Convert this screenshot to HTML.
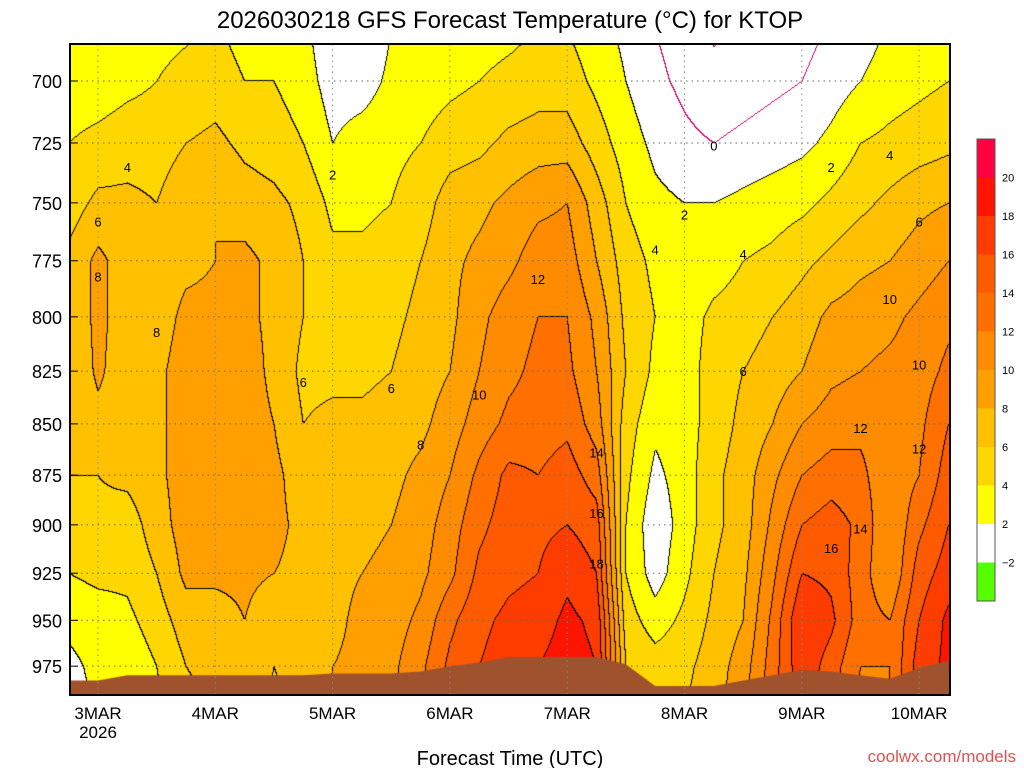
<!DOCTYPE html>
<html><head><meta charset="utf-8">
<style>
body{margin:0;background:#fff;width:1024px;height:768px;overflow:hidden;font-family:"Liberation Sans",sans-serif;}
#wrap{position:relative;width:1024px;height:768px;}
canvas{position:absolute;left:0;top:0;}
svg{position:absolute;left:0;top:0;}
</style></head>
<body><div id="wrap">
<canvas id="cv" width="1024" height="768"></canvas>
<svg id="sv" width="1024" height="768"></svg>
</div>
<script>
// ---- data ----
const levels = [700,725,750,775,800,825,850,875,900,925,950,975];
const dayLabels = ["3MAR","4MAR","5MAR","6MAR","7MAR","8MAR","9MAR","10MAR"];
// temperature columns, 6-hourly from 2026-03-02 18Z; each row follows levels[]
const T = [
[3,4,5,6.5,6.5,6.5,6.5,6,5,4,2.5,1.5],
[3,4.5,6.5,8.5,8.5,8.3,7.5,6,5.5,4.5,3,2.5],
[3.5,5,6.5,7,7,7,7,6.5,5,4.5,3.5,2.5],
[4,5,6,7,7,7.5,7.5,7.5,7,6,5,4],
[4.5,6,7.5,7.5,8.5,9,9,9,9,8.5,7,6],
[5,6.5,8,8,8.5,9,9.5,9.5,9,8.5,7,6.5],
[4,5.5,7,8.5,8.5,9,9,9,9,8.5,8,7],
[4,5,6.5,7.5,7.5,7.5,8,8.5,8.5,8,6.5,6],
[3,4,5.5,6,6,5.5,6,7,7.5,7.5,7,6.5],
[1,2,3.5,4.5,5,5.5,6.5,7,7.5,7.5,7.5,8],
[1,3,3.5,4.5,5,5.5,6.5,7,7.5,8,8.5,8.5],
[2.5,3.5,4,5,5.5,6,7,7.5,8,8.5,9,9.5],
[3,4,5,6,6.5,7,7.5,8.5,9,9.5,10.5,11.5],
[3.5,5,7,7.5,7.5,8,9,10,11,11.5,13.5,14.5],
[4,5.5,7.5,8.5,9.5,10,11,12.5,13.5,14.5,15.5,16],
[4.5,6.5,8.5,9.5,11,11.5,12.5,14.5,15,15.5,16.5,17],
[5,7,9.5,11,12,12.5,13,14,15.5,16,17,18],
[5,7,10,11,12,12.5,13.5,15,16,17.5,18.5,19],
[3.5,5,7,8,9.5,10,11,13,15,16,17.5,18],
[2,3,4,5,5.5,6,5,4.5,4,4,5,6],
[0.5,1.5,2.5,3.5,4,3.5,2.5,1.5,0.5,1,3,5],
[-0.5,0.5,2,2.5,3,3,3,3,3,3.5,4.5,5.5],
[-1.5,0,2,3,4.5,5,5,5.5,5.5,6,6.5,7],
[-1,0.5,2.5,4,5,6,6.5,7,7,7.5,8,9],
[-0.5,1,3,4.5,6,7,8,9.5,10.5,11.5,12.5,13],
[0,1.5,3.5,5.5,7,8,10,12,14,16,18,17.5],
[1,2.5,4.5,6.5,8.5,9.5,11,13,15,15.5,16.5,15],
[2,4,5.5,7.5,9,10,11.5,12.5,13.5,13,13,12],
[3,4.5,6.5,8,9.5,10.5,11,10.5,10,10,12,12],
[3.5,5,7.5,9,10.5,11,11.5,12,13.5,15,16,17],
[4,5.5,8,10,11.5,12.5,14,15,16,17,18.5,18.5]
];
const surfaceP = [983,983,980,980,980,980,980,980,980,979,979,979,978,975,973,970,970,970,970,974,986,986,986,983,980,977,978,980,982,976,972];
const binColors = ["#55ff00","#ffffff","#ffffff","#ffff00","#ffd700","#ffc000","#ffa000","#ff8c00","#ff7000","#ff5a00","#ff3c00","#ff1400","#ff0040"];
const binEdges = [-2,0,2,4,6,8,10,12,14,16,18,20];
const legendLabels = ["20","18","16","14","12","10","8","6","4","2","\u22122"];
// contour labels: [value, time index, pressure]
const labelVals = ["4","6","8","8","6","2","6","8","10","12","14","16","18","4","2","4","6","10","12","14","16","10","12","0","2","4","6"];
const labelIdx  = [2,1,1,3,8,9,11,12,14,16,18,18,18,20,21,23,23,28,27,27,26,29,29,22,26,28,29];
const labelP    = [735,758,782,807,830,738,833,860,836,783,864,894,920,770,755,772,825,792,852,902,912,822,862,726,735,730,758];

// ---- axes ----
const X0=70,X1=950,Y0=44,Y1=695;
const dayW=117.3, day0X=98;
const stepW=dayW/4;
function xOfIdx(i){return day0X-stepW+i*stepW;}
function yOfP(p){return 81+1766*Math.log(p/700);}
function pOfY(y){return 700*Math.exp((y-81)/1766);}

function tempAt(x,y){
  let fi=(x-xOfIdx(0))/stepW; fi=Math.max(0,Math.min(T.length-1.0001,fi));
  const i=Math.floor(fi), fx=fi-i;
  const p=pOfY(y);
  const lp=Math.log(p);
  let fj;
  if(p<levels[0]){fj=(lp-Math.log(levels[0]))/(Math.log(levels[1])-Math.log(levels[0]));}
  else if(p>=levels[levels.length-1]){fj=levels.length-1+(lp-Math.log(975))/(Math.log(975)-Math.log(950));}
  else{
    let j=0;while(j<levels.length-2&&p>levels[j+1])j++;
    fj=j+(lp-Math.log(levels[j]))/(Math.log(levels[j+1])-Math.log(levels[j]));
  }
  function col(c){
    const n=levels.length;
    if(fj<0) return c[0]+fj*(c[1]-c[0])*0.6;
    if(fj>=n-1) return c[n-1]+(fj-(n-1))*(c[n-1]-c[n-2])*0.5;
    const j=Math.floor(fj),f=fj-j;return c[j]*(1-f)+c[j+1]*f;
  }
  return col(T[i])*(1-fx)+col(T[i+1])*fx;
}
function binOf(t){let b=0;while(b<binEdges.length&&t>=binEdges[b])b++;return b;}
function hexRgb(h){return [parseInt(h.slice(1,3),16),parseInt(h.slice(3,5),16),parseInt(h.slice(5,7),16)];}
const rgb=binColors.map(hexRgb);

const cv=document.getElementById('cv'),ctx=cv.getContext('2d');
const W=X1-X0,H=Y1-Y0;
const img=ctx.createImageData(W,H);
const bins=new Int16Array(W*H);
for(let yy=0;yy<H;yy++)for(let xx=0;xx<W;xx++){bins[yy*W+xx]=binOf(tempAt(X0+xx,Y0+yy));}
for(let yy=0;yy<H;yy++)for(let xx=0;xx<W;xx++){
  const k=yy*W+xx,b=bins[k];let c=rgb[b];
  const r=xx<W-1?bins[k+1]:b, d=yy<H-1?bins[k+W]:b;
  if(r!==b||d!==b){const lo=Math.min(b,r,d);c=(lo<=1)?[200,0,110]:[0,0,0];}
  img.data[k*4]=c[0];img.data[k*4+1]=c[1];img.data[k*4+2]=c[2];img.data[k*4+3]=255;
}
ctx.putImageData(img,X0,Y0);

ctx.fillStyle="#a0522d";ctx.beginPath();ctx.moveTo(X0,Y1);
for(let i=0;i<surfaceP.length;i++){ctx.lineTo(Math.max(X0,Math.min(X1,xOfIdx(i))),yOfP(surfaceP[i]));}
ctx.lineTo(X1,Y1);ctx.closePath();ctx.fill();

// ---- SVG overlay ----
const sv=document.getElementById('sv');const NS="http://www.w3.org/2000/svg";
function mk(tag,attrs,txt){const e=document.createElementNS(NS,tag);for(const k in attrs)e.setAttribute(k,attrs[k]);if(txt!==undefined)e.textContent=txt;sv.appendChild(e);return e;}
levels.forEach(p=>{
  const y=yOfP(p);
  const g=mk('line',{x1:X0,x2:X1,y1:y,y2:y,stroke:'#666','stroke-dasharray':'1.5,4','stroke-width':1});
  
  
  const tk=mk('line',{x1:X0,x2:X0+8,y1:y,y2:y,stroke:'#000'});
  
  
  const t=mk('text',{x:X0-8,y:y+7,'text-anchor':'end','font-size':18,fill:'#000'},String(p));
  
  
});
dayLabels.forEach((d,i)=>{
  const x=day0X+i*dayW;
  const g=mk('line',{x1:x,x2:x,y1:Y0,y2:Y1,stroke:'#888','stroke-dasharray':'1.5,4','stroke-width':1});
  
  
  const t=mk('text',{x:x,y:719,'text-anchor':'middle','font-size':17,fill:'#000'},d);
  
  
});
labelVals.forEach((s,k)=>{
  const t=mk('text',{x:xOfIdx(labelIdx[k]),y:yOfP(labelP[k])+5,'text-anchor':'middle','font-size':13,fill:'#000'},s);
  
  
});
const yr=mk('text',{x:day0X,y:738,'text-anchor':'middle','font-size':17},"2026");


const fr=mk('rect',{x:X0,y:Y0,width:W,height:H,fill:'none',stroke:'#000','stroke-width':2});


const ti=mk('text',{x:510,y:28,'text-anchor':'middle','font-size':24,fill:'#000'},"2026030218 GFS Forecast Temperature (\u00B0C) for KTOP");


const xt=mk('text',{x:510,y:765,'text-anchor':'middle','font-size':20},"Forecast Time (UTC)");


const cr=mk('text',{x:1016,y:762,'text-anchor':'end','font-size':17,fill:'#e05050'},"coolwx.com/models");


const LX=977,LY=139,LH=38.5;
const legColors=["#ff0040","#ff1400","#ff3c00","#ff5a00","#ff7000","#ff8c00","#ffa000","#ffc000","#ffd700","#ffff00","#ffffff","#55ff00"];
legColors.forEach((c,k)=>{
  const r=mk('rect',{x:LX,y:LY+k*LH,width:18,height:LH,fill:c,stroke:'none'});
  
  
});
const lb=mk('rect',{x:LX,y:LY,width:18,height:LH*12,fill:'none',stroke:'#555','stroke-width':1});


legendLabels.forEach((s,k)=>{
  const y=LY+(k+1)*LH;
  const t=mk('text',{x:1002,y:y+4,'font-size':11,fill:'#000'},s);
  
  
});
</script>
</body></html>
